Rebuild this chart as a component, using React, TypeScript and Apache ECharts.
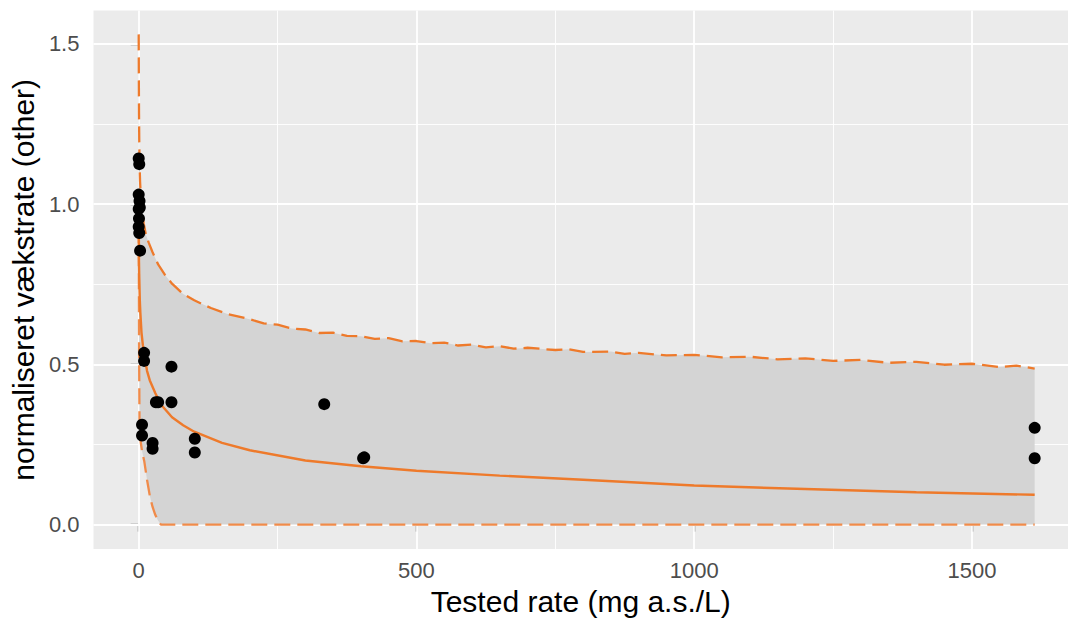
import { useEffect, useRef } from "react";
import * as echarts from "echarts";

// Observations
const pointX = [0, 1, 0, 1.5, 2, 0, 0.5, 0, 1, 2.5, 9.7, 9.7, 59, 31, 35, 59, 6, 6, 25, 25, 101, 101, 334, 404, 406, 1613, 1613];
const pointY = [1.143, 1.125, 1.03, 1.01, 0.99, 0.985, 0.955, 0.93, 0.91, 0.855, 0.536, 0.511, 0.493, 0.382, 0.382, 0.382, 0.312, 0.278, 0.255, 0.237, 0.268, 0.225, 0.376, 0.207, 0.21, 0.302, 0.207];

// Fitted curve (solid)
const fitX = [0, 0.5, 1, 2, 3, 5, 7.5, 10, 15, 20, 30, 40, 60, 80, 100, 150, 200, 300, 400, 500, 650, 800, 1000, 1200, 1400, 1613];
const fitY = [1.0, 0.82, 0.77, 0.7, 0.66, 0.6, 0.56, 0.53, 0.48, 0.45, 0.41, 0.375, 0.335, 0.31, 0.29, 0.255, 0.232, 0.2, 0.182, 0.168, 0.153, 0.14, 0.122, 0.111, 0.101, 0.093];

// Upper confidence limit (dashed, slightly jagged)
const upperX = [0, 0.3, 0.6, 1, 1.5, 2.5, 4, 6, 9, 13, 18, 25, 35, 47, 60, 80, 100, 130, 160, 200, 225, 250, 275, 300, 325, 350, 375, 400, 425, 450, 475, 500, 525, 550, 575, 600, 625, 650, 675, 700, 750, 775, 800, 850, 875, 900, 950, 1000, 1050, 1100, 1150, 1200, 1250, 1300, 1350, 1400, 1450, 1500, 1550, 1580, 1613];
const upperY = [1.53, 1.38, 1.28, 1.2, 1.13, 1.07, 1.02, 0.98, 0.94, 0.905, 0.88, 0.85, 0.812, 0.78, 0.752, 0.72, 0.7, 0.676, 0.657, 0.641, 0.628, 0.624, 0.612, 0.609, 0.598, 0.599, 0.589, 0.588, 0.58, 0.582, 0.572, 0.573, 0.566, 0.568, 0.559, 0.562, 0.553, 0.557, 0.549, 0.552, 0.545, 0.547, 0.539, 0.54, 0.533, 0.536, 0.528, 0.53, 0.522, 0.524, 0.516, 0.519, 0.511, 0.514, 0.505, 0.508, 0.499, 0.502, 0.492, 0.496, 0.487];

// Lower confidence limit (dashed)
const lowerX = [0, 0.3, 0.7, 1.5, 3, 6, 10, 15, 20, 25, 30, 35, 40, 1613];
const lowerY = [1.0, 0.8, 0.55, 0.3, 0.265, 0.23, 0.198, 0.14, 0.09, 0.055, 0.03, 0.012, 0, 0];

const xTicks = [0, 500, 1000, 1500];
const xMinor = [250, 750, 1250];
const yTicks = [0, 0.5, 1, 1.5];
const yMinor = [0.25, 0.75, 1.25];

const FONT = "'Liberation Sans', Arial, sans-serif";
const ORANGE = "#EE7A2B";

export default function App() {
  const ref = useRef<HTMLDivElement>(null);
  useEffect(() => {
    const chart = echarts.init(ref.current!, null, { renderer: "svg" });
    const pts = pointX.map((x, i) => [x, pointY[i]]);
    const fit = fitX.map((x, i) => [x, fitY[i]]);
    const up = upperX.map((x, i) => [x, upperY[i]]);
    const lo = lowerX.map((x, i) => [x, lowerY[i]]);

    const gridData: any[] = [
      ...xTicks.map((v) => ({ xAxis: v, lineStyle: { width: 1.8 } })),
      ...xMinor.map((v) => ({ xAxis: v, lineStyle: { width: 0.9 } })),
      ...yTicks.map((v) => ({ yAxis: v, lineStyle: { width: 1.8 } })),
      ...yMinor.map((v) => ({ yAxis: v, lineStyle: { width: 0.9 } })),
    ];

    chart.setOption({
      animation: false,
      grid: {
        left: 92,
        right: 0,
        top: 10.5,
        bottom: 67,
        show: true,
        backgroundColor: "#EBEBEB",
        borderWidth: 0,
      },
      xAxis: {
        type: "value",
        min: -81.4,
        max: 1673,
        axisLine: { show: false },
        splitLine: { show: false },
        axisTick: {
          show: true,
          customValues: xTicks,
          length: 7,
          lineStyle: { color: "#333", width: 1.3 },
        },
        axisLabel: {
          customValues: xTicks,
          formatter: (v: number) => String(v),
          fontSize: 22,
          color: "#4d4d4d",
          fontFamily: FONT,
          margin: 10,
        },
        name: "Tested rate (mg a.s./L)",
        nameLocation: "middle",
        nameGap: 31,
        nameTextStyle: { fontSize: 30, color: "#000", fontFamily: FONT },
      },
      yAxis: {
        type: "value",
        min: -0.0764,
        max: 1.6045,
        axisLine: { show: false },
        splitLine: { show: false },
        axisTick: {
          show: true,
          customValues: yTicks,
          length: 8,
          lineStyle: { color: "#333", width: 1.3 },
        },
        axisLabel: {
          customValues: yTicks,
          formatter: (v: number) => v.toFixed(1),
          fontSize: 22,
          color: "#4d4d4d",
          fontFamily: FONT,
          margin: 14,
        },
        name: "normaliseret vækstrate (other)",
        nameLocation: "middle",
        nameGap: 50,
        nameTextStyle: { fontSize: 30, color: "#000", fontFamily: FONT },
      },
      series: [
        {
          type: "line",
          data: [],
          z: 1,
          silent: true,
          markLine: {
            z: 1,
            silent: true,
            symbol: "none",
            label: { show: false },
            lineStyle: { color: "#FFFFFF", type: "solid" },
            data: gridData,
          },
        },
        {
          type: "custom",
          z: 10,
          silent: true,
          data: [[0, 0]],
          renderItem: (_params: any, api: any) => {
            const poly = [
              ...up.map((p) => api.coord(p)),
              ...lo.slice().reverse().map((p) => api.coord(p)),
            ];
            return {
              type: "polygon",
              shape: { points: poly },
              style: { fill: "#D4D4D4", stroke: "none" },
            };
          },
        },
        {
          type: "line",
          z: 11,
          data: up,
          symbol: "none",
          lineStyle: { color: ORANGE, width: 2.3, type: [16, 7] },
        },
        {
          type: "line",
          z: 11,
          data: lo,
          symbol: "none",
          lineStyle: { color: "#F08B4A", width: 2.3, type: [16, 7] },
        },
        {
          type: "line",
          z: 11,
          data: fit,
          symbol: "none",
          lineStyle: { color: ORANGE, width: 2.4 },
        },
        {
          type: "scatter",
          z: 12,
          data: pts,
          symbolSize: 12,
          itemStyle: { color: "#000", opacity: 1 },
        },
      ],
    });
    return () => chart.dispose();
  }, []);
  return (
    <div
      ref={ref}
      style={{ position: "fixed", left: 0, top: 0, width: 1068, height: 621, background: "#fff" }}
    />
  );
}
